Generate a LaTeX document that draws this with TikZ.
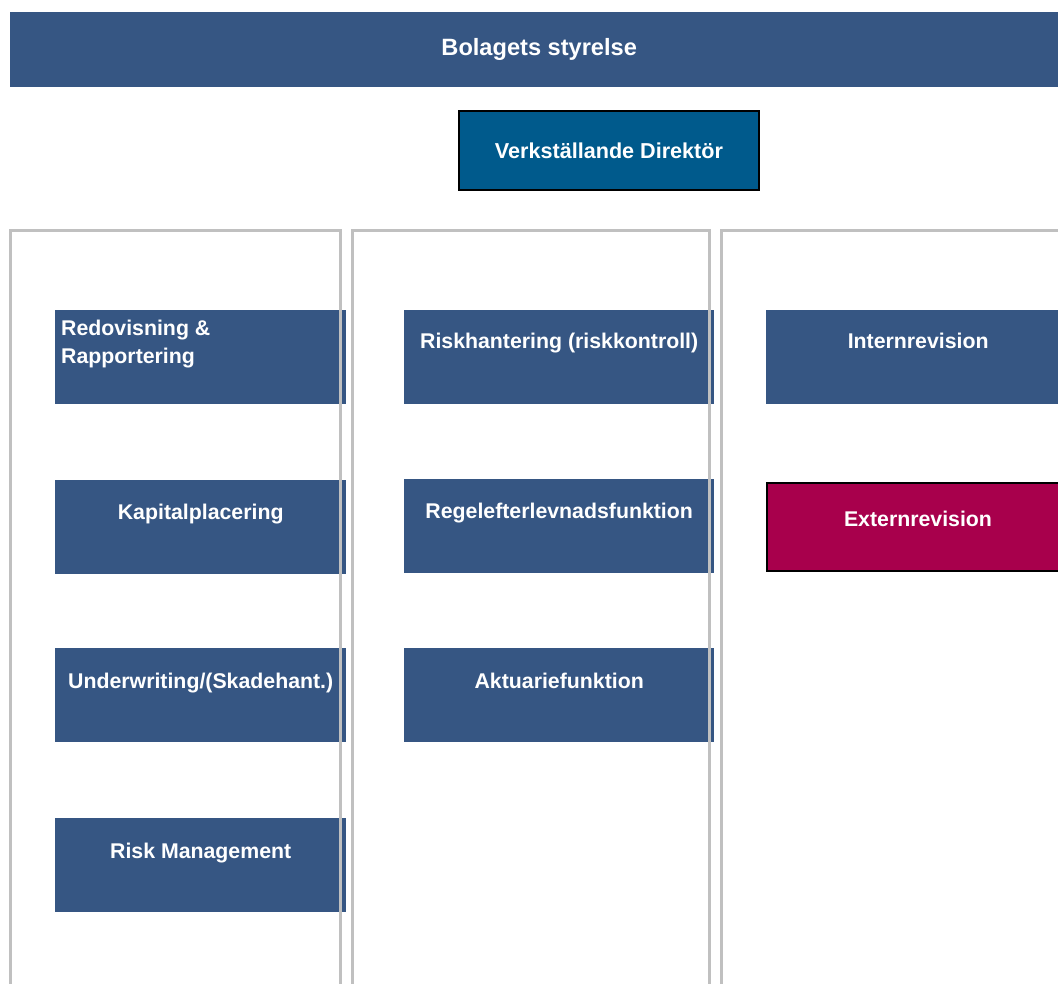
\documentclass[tikz,border=0pt]{standalone}
\usepackage{fontspec}
\setmainfont{Liberation Sans}
\usepackage{tikz}
\usetikzlibrary{positioning}

\definecolor{orgblue}{RGB}{54,86,131}
\definecolor{ceoblue}{RGB}{0,90,140}
\definecolor{extred}{RGB}{168,0,76}
\definecolor{colgrey}{RGB}{192,192,192}

\begin{document}
\begin{tikzpicture}[x=1pt, y=-1pt,
  txt/.style={text=white, inner sep=0pt, font=\bfseries\fontsize{21.3}{28}\selectfont},
  unit/.style={fill=orgblue, inner sep=0pt, anchor=north west, minimum height=94},
  colline/.style={draw=colgrey, line width=3pt}]
\useasboundingbox (0,0) rectangle (1058,984);
\clip (0,0) rectangle (1058,984);

% top
\node[txt, font=\bfseries\fontsize{23.6}{28}\selectfont, fill=orgblue, minimum width=1058, minimum height=75, anchor=north west] (board) at (10,12) {Bolagets styrelse};
\node[txt, font=\bfseries\fontsize{21.6}{28}\selectfont, fill=ceoblue, draw=black, line width=2pt, minimum width=300, minimum height=79, anchor=north west] (ceo) at (458,110) {Verkst\"allande Direkt\"or};

% boxes
\node[unit, minimum width=291] (redov) at (55,310) {};
\node[unit, minimum width=291] (kapital) at (55,480) {};
\node[unit, minimum width=291] (underw) at (55,648) {};
\node[unit, minimum width=291] (riskm) at (55,818) {};
\node[unit, minimum width=310] (riskh) at (404,310) {};
\node[unit, minimum width=310] (regel) at (404,479) {};
\node[unit, minimum width=310] (aktuar) at (404,648) {};
\node[unit, minimum width=304] (intern) at (766,310) {};
\node[unit, fill=extred, draw=black, line width=2pt, minimum width=302, minimum height=88] (extern) at (766,482) {};

% texts
\node[txt, anchor=north west, align=left] (redov-t) at (61,319.5) {Redovisning \&\\Rapportering};
\node[txt, anchor=base] (kapital-t) at ([yshift=-39.5pt]kapital.north) {Kapitalplacering};
\node[txt, anchor=base] (underw-t) at ([yshift=-40pt]underw.north) {Underwriting/(Skadehant.)};
\node[txt, anchor=base] (riskm-t) at ([yshift=-40pt]riskm.north) {Risk Management};
\node[txt, anchor=base] (riskh-t) at ([yshift=-38.5pt]riskh.north) {Riskhantering (riskkontroll)};
\node[txt, anchor=base] (regel-t) at ([yshift=-39.5pt]regel.north) {Regelefterlevnadsfunktion};
\node[txt, anchor=base] (aktuar-t) at ([yshift=-40pt]aktuar.north) {Aktuariefunktion};
\node[txt, anchor=base] (intern-t) at ([yshift=-39pt]intern.north) {Internrevision};
\node[txt, anchor=base] (extern-t) at ([yshift=-44.7pt]extern.north) {Externrevision};

% columns
\draw[colline] (10.5,1000) |- (340.5,230.5) -- (340.5,1000);
\draw[colline] (352.5,1000) |- (709.5,230.5) -- (709.5,1000);
\draw[colline] (721.5,1000) |- (1070,230.5);
\end{tikzpicture}
\end{document}
